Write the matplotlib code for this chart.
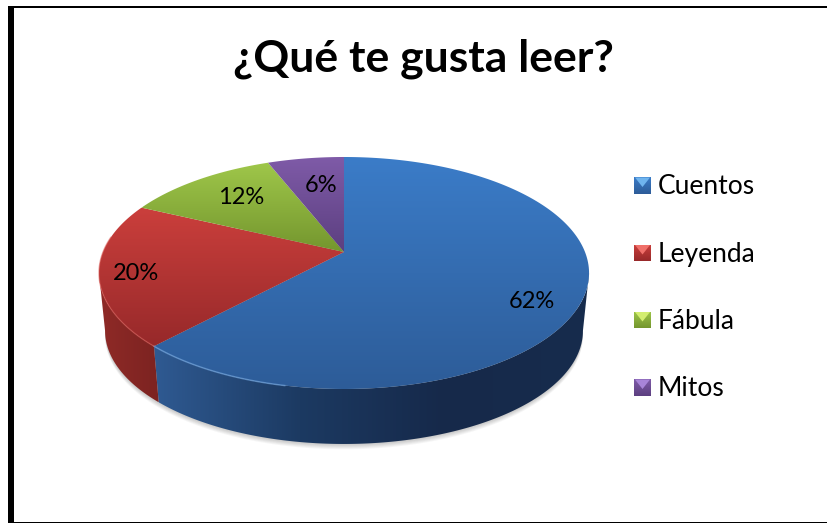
'''
Pie chart "¿Qué te gusta leer?" with a fake 3D look.
'''

import numpy as np
import matplotlib
matplotlib.use('Agg')
import matplotlib.pyplot as plt
from matplotlib.patches import Polygon, Rectangle
from matplotlib.colors import LinearSegmentedColormap

plt.rcParams['font.family'] = ['Lato', 'DejaVu Sans']

categories = ['Cuentos', 'Leyenda', 'Fábula', 'Mitos']
values = [62, 20, 12, 6]
labels = ['62%', '20%', '12%', '6%']

# light, dark colour of the top face for each slice
top_colors = [('#3b7cc8', '#2d5c98'), ('#cb3f3c', '#97292a'), ('#9fc74a', '#74962e'), ('#7f5ba8', '#5c3f80')]
# colours of the wall from left to right
side_colors = [['#2f5a92', '#1c3a62', '#16294a', '#172c4d'], ['#8f2a27', '#7c2321'], ['#6f8c2c', '#5a7222'], ['#553a78', '#452e63']]
legend_light = ['#6fb4ee', '#f0706a', '#d3ee70', '#a884d8']

# projection of the pie, in pixels
CX, CY = 344, 252
A, B, K = 241, 112.2, 0.181
# the bottom rim is a slightly smaller copy of the top rim
WALL_SCALE, WALL_SHIFT = 0.975, 64.7


def project(angle):
    '''
    Clockwise angle from the top of the pie to picture coordinates.
    '''
    u, v = np.sin(angle), np.cos(angle)
    w = 1 + K * v
    return CX + A * u / w, CY - B * v / w


def lower(x, y):
    '''
    Move a point of the top rim to the bottom rim.
    '''
    return CX + WALL_SCALE * (x - CX), WALL_SCALE * y + WALL_SHIFT


def gradient(ax, patch, box, colors, horizontal=False):
    '''
    Fill a patch with a colour gradient inside box (x0, x1, y0, y1).
    '''
    cmap = LinearSegmentedColormap.from_list('g', colors)
    ramp = np.linspace(0, 1, 256)
    ramp = ramp.reshape(1, -1) if horizontal else ramp.reshape(-1, 1)
    im = ax.imshow(ramp, cmap=cmap, vmin=0, vmax=1, aspect='auto', origin='upper',
                   extent=(box[0], box[1], box[3], box[2]), interpolation='bilinear', zorder=patch.get_zorder())
    ax.add_patch(patch)
    patch.set_visible(False)
    im.set_clip_path(patch)
    return im


fig = plt.figure(figsize=(8.28, 5.23), dpi=100)
ax = fig.add_axes([0, 0, 1, 1])
ax.set_xlim(0, 828)
ax.set_ylim(523, 0)
ax.axis('off')

# black frame, there is none on the right
ax.add_patch(Rectangle((8, 6), 820, 2.2, color='black', lw=0, zorder=10))
ax.add_patch(Rectangle((8, 6), 5.6, 517, color='black', lw=0, zorder=10))
ax.add_patch(Rectangle((8, 521.5), 820, 1.5, color='black', lw=0, zorder=10))

ax.text(423, 59, '¿Qué te gusta leer?', fontsize=32, fontweight='bold', ha='center', va='center', zorder=5)

edges = np.cumsum([0] + values) / sum(values) * 2 * np.pi

# soft shadow under the pie
sx, sy = lower(*project(np.linspace(0, 2 * np.pi, 360)))
for i in range(6):
    ax.fill(sx, sy + (6 - i) * 0.9, color='black', alpha=0.035, lw=0, zorder=1)

# side wall, the rim shows between the two points where it turns back
turn = np.arccos(-K)
for i in range(len(values)):
    a0, a1 = max(edges[i], turn), min(edges[i + 1], 2 * np.pi - turn)
    if a1 <= a0:
        continue
    x, y = project(np.linspace(a0, a1, 200))
    xl, yl = lower(x, y)
    pts = np.r_[np.c_[x, y], np.c_[xl[::-1], yl[::-1]]]
    patch = Polygon(pts, closed=True, zorder=2)
    # the angle runs right to left here, the colours go left to right
    gradient(ax, patch, (pts[:, 0].min(), pts[:, 0].max(), pts[:, 1].min(), pts[:, 1].max()), side_colors[i], horizontal=True)

# top face
for i in range(len(values)):
    x, y = project(np.linspace(edges[i], edges[i + 1], 200))
    pts = np.r_[[[CX, CY]], np.c_[x, y]]
    patch = Polygon(pts, closed=True, zorder=3)
    gradient(ax, patch, (pts[:, 0].min(), pts[:, 0].max(), pts[:, 1].min(), pts[:, 1].max()), top_colors[i])

# bevel highlights on the rim
x, y = project(np.linspace(edges[1] - 0.55, edges[1], 60))
ax.plot(x, y, color='#6fa3dd', lw=1.1, alpha=0.65, zorder=4)
x, y = project(np.linspace(edges[1], edges[1] + 0.95, 60))
ax.plot(x, y, color='#dc5a55', lw=1.0, alpha=0.5, zorder=4)

# slice labels
label_x = [532, 136, 241, 321]
label_y = [302, 274, 198, 186]
for i in range(len(values)):
    ax.text(label_x[i], label_y[i], labels[i], fontsize=17, ha='center', va='center', zorder=6)

# legend
leg_y = [185.5, 253, 320, 387.5]
for i, name in enumerate(categories):
    y0 = leg_y[i]
    patch = Rectangle((634, y0 - 8.5), 17, 17, zorder=5)
    gradient(ax, patch, (634, 651, y0 - 8.5, y0 + 8.5), top_colors[i])
    ax.add_patch(Polygon([[635, y0 - 8], [650, y0 - 8], [642.5, y0 + 1.5]], closed=True, color=legend_light[i], lw=0, zorder=6))
    ax.text(658, y0 + 1.5, name, fontsize=19, ha='left', va='center', zorder=6)

ax.set_xlim(0, 828)
ax.set_ylim(523, 0)
fig.savefig('out.png', dpi=100)
